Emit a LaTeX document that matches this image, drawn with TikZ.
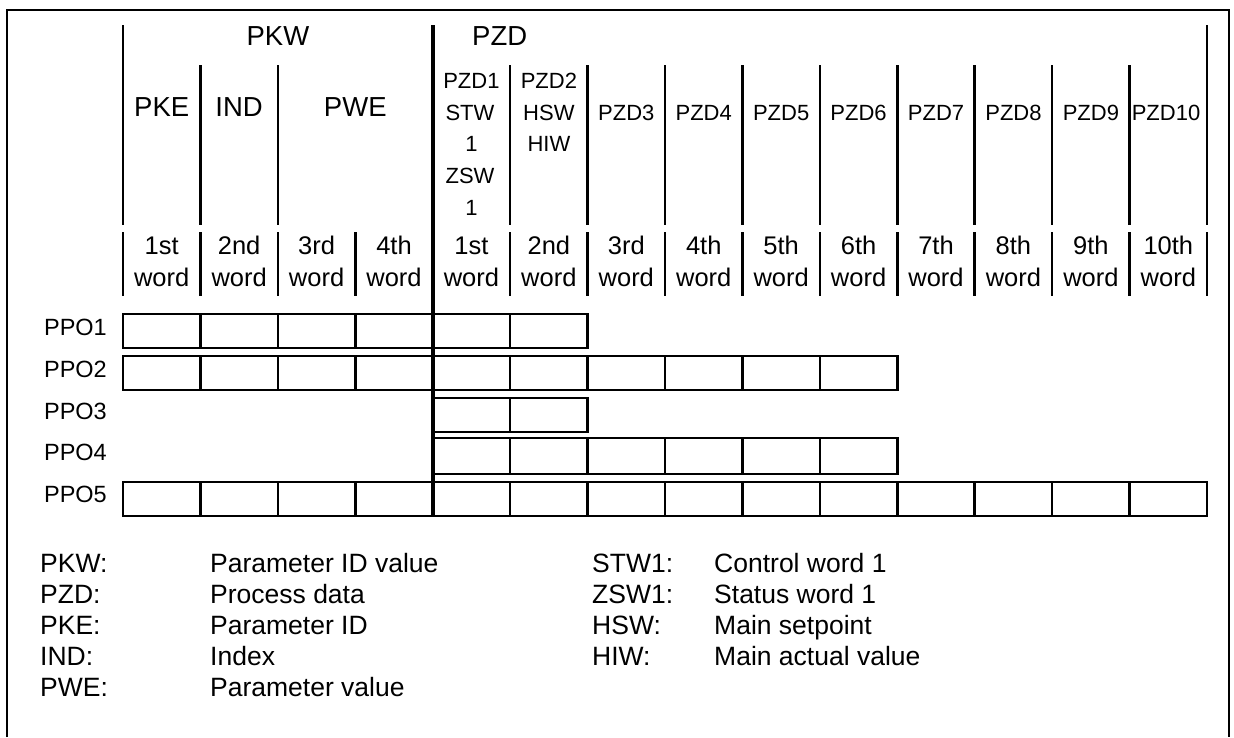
\documentclass[tikz,border=0pt]{standalone}
\usepackage{fontspec}
\setmainfont{Liberation Sans}
\begin{document}
\begin{tikzpicture}[x=1pt,y=-1pt,
  txt/.style={inner sep=0pt, text height=.72em, text depth=0pt},
  big/.style={txt, font=\fontsize{27.5}{32}\selectfont},
  wrd/.style={txt, font=\fontsize{25.5}{30}\selectfont},
  sml/.style={txt, font=\fontsize{22}{26}\selectfont},
  lab/.style={txt, font=\fontsize{23.5}{28}\selectfont, anchor=east},
  leg/.style={txt, font=\fontsize{26.5}{31}\selectfont, anchor=west},
  frm/.style={line width=2pt},
  sep/.style={line width=2.5pt},
  thk/.style={line width=4pt},
  cell/.style={line width=2.5pt}]
\useasboundingbox (0,0) rectangle (1234,737);
% outer frame
\draw[frm] (7,737) -- (7,10) -- (1229,10) -- (1229,737);
% column coordinates
\foreach \i in {0,...,14} { \coordinate (c\i) at ({123+77.43*\i},0); }
% header separators
\draw[sep] (c0 |- 0,25) -- (c0 |- 0,225);
\draw[sep] (c14 |- 0,25) -- (c14 |- 0,225);
\foreach \i in {1,2,5,6,7,8,9,10,11,12,13} { \draw[sep] (c\i |- 0,65) -- (c\i |- 0,225); }
\foreach \i in {0,1,2,3,5,6,7,8,9,10,11,12,13,14} { \draw[sep] (c\i |- 0,232) -- (c\i |- 0,296); }
% PPO rows
\draw[cell] (c0 |- 0,314) rectangle (c6 |- 0,348);
\foreach \i in {1,...,5} { \draw[cell] (c\i |- 0,314) -- (c\i |- 0,348); }
\draw[cell] (c0 |- 0,356) rectangle (c10 |- 0,390);
\foreach \i in {1,...,9} { \draw[cell] (c\i |- 0,356) -- (c\i |- 0,390); }
\draw[cell] (c4 |- 0,398) rectangle (c6 |- 0,432);
\draw[cell] (c5 |- 0,398) -- (c5 |- 0,432);
\draw[cell] (c4 |- 0,438) rectangle (c10 |- 0,474);
\foreach \i in {5,...,9} { \draw[cell] (c\i |- 0,438) -- (c\i |- 0,474); }
\draw[cell] (c0 |- 0,482) rectangle (c14 |- 0,516);
\foreach \i in {1,...,13} { \draw[cell] (c\i |- 0,482) -- (c\i |- 0,516); }
% thick PKW/PZD divider
\draw[thk] (c4 |- 0,25) -- (c4 |- 0,516);
% header texts
\node[big] (pkw) at (277.9,42) {PKW};
\node[big,anchor=west] (pzd) at (472,42) {PZD};
\node[big] (pke) at (161.7,113) {PKE};
\node[big] (ind) at (239.1,113) {IND};
\node[big] (pwe) at (355.3,113) {PWE};
\node[sml] (z1a) at (471.4,85) {PZD1};
\node[sml] (z1b) at (470,117) {STW};
\node[sml] (z1c) at (471.4,148) {1};
\node[sml] (z1d) at (470,180) {ZSW};
\node[sml] (z1e) at (471.4,212) {1};
\node[sml] (z2a) at (548.9,85) {PZD2};
\node[sml] (z2b) at (548.9,117) {HSW};
\node[sml] (z2c) at (548.9,148) {HIW};
\foreach \k [evaluate=\k as \xx using {123+77.43*(\k+3.5)}] in {3,...,9} {
  \node[sml] (pz\k) at (\xx,117) {PZD\k};
}
\node[sml] (pz10) at (1166,117) {PZD10};
\foreach \t [count=\j from 0, evaluate=\j as \xx using {123+77.43*(\j+0.5)}] in {1st,2nd,3rd,4th,1st,2nd,3rd,4th,5th,6th,7th,8th,9th,10th} {
  \node[wrd] (n\j) at (\xx,251) {\t};
  \node[wrd] (w\j) at (\xx,283) {word};
}
% PPO labels
\node[lab] (p1) at (107,332) {PPO1};
\node[lab] (p2) at (107,374) {PPO2};
\node[lab] (p3) at (107,416) {PPO3};
\node[lab] (p4) at (107,457) {PPO4};
\node[lab] (p5) at (107,499) {PPO5};
% legend
\node[leg] (l1a) at (40,569) {PKW:};
\node[leg] (l1b) at (210,569) {Parameter ID value};
\node[leg] (l2a) at (40,600) {PZD:};
\node[leg] (l2b) at (210,600) {Process data};
\node[leg] (l3a) at (40,631) {PKE:};
\node[leg] (l3b) at (210,631) {Parameter ID};
\node[leg] (l4a) at (40,662) {IND:};
\node[leg] (l4b) at (210,662) {Index};
\node[leg] (l5a) at (40,693) {PWE:};
\node[leg] (l5b) at (210,693) {Parameter value};
\node[leg] (r1a) at (592,569) {STW1:};
\node[leg] (r1b) at (714,569) {Control word 1};
\node[leg] (r2a) at (592,600) {ZSW1:};
\node[leg] (r2b) at (714,600) {Status word 1};
\node[leg] (r3a) at (592,631) {HSW:};
\node[leg] (r3b) at (714,631) {Main setpoint};
\node[leg] (r4a) at (592,662) {HIW:};
\node[leg] (r4b) at (714,662) {Main actual value};
\end{tikzpicture}
\end{document}
